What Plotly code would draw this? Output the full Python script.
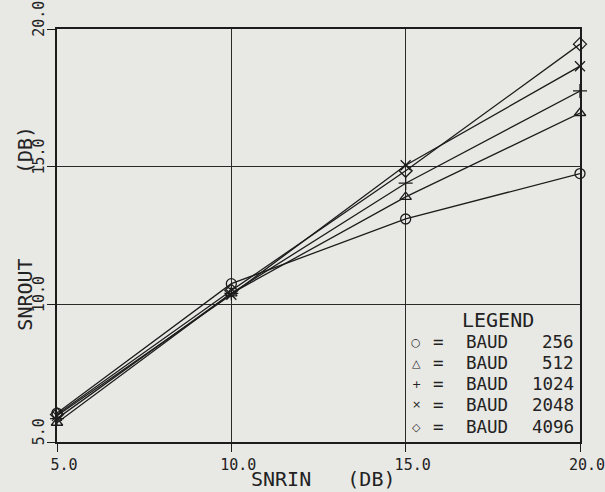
import plotly.graph_objects as go

# ---- data ----
snrin = [5, 10, 15, 20]
baud_rates = [256, 512, 1024, 2048, 4096]
snrout_256 = [6.05, 10.75, 13.1, 14.75]
snrout_512 = [5.7, 10.4, 13.9, 16.95]
snrout_1024 = [5.85, 10.4, 14.4, 17.75]
snrout_2048 = [5.95, 10.35, 15.05, 18.65]
snrout_4096 = [6.0, 10.5, 14.85, 19.45]
tick_vals = [5, 10, 15, 20]
tick_text = ["5.0", "10.0", "15.0", "20.0"]

series = [snrout_256, snrout_512, snrout_1024, snrout_2048, snrout_4096]
symbols = ["circle-open", "triangle-up-open", "cross-thin-open", "x-thin-open", "diamond-open"]
legend_glyphs = ["\u25cb", "\u25b3", "+", "\u00d7", "\u25c7"]

BG = "#e8e8e4"
INK = "#1c1c1c"
TXT = "#222"
MONO = "DejaVu Sans Mono"
NB = "\u00a0"

fig = go.Figure()
for vals, sym in zip(series, symbols):
    fig.add_trace(go.Scatter(
        x=snrin, y=vals, mode="lines+markers",
        line=dict(color=INK, width=1.3),
        marker=dict(symbol=sym, size=10, color=INK, line=dict(color=INK, width=1.3)),
        cliponaxis=False, showlegend=False,
    ))

axis_common = dict(
    range=[5, 20], tickvals=tick_vals, ticktext=tick_text,
    showline=True, linecolor=INK, linewidth=1.5, mirror=True,
    showgrid=True, gridcolor="#2a2a2a", gridwidth=1,
    ticks="outside", ticklen=8, tickcolor=INK, tickwidth=1.3,
    tickfont=dict(family=MONO, size=15, color=TXT),
    zeroline=False, automargin=False, ticklabeloverflow="allow",
)
fig.update_xaxes(**axis_common, ticklabelshift=7)
fig.update_yaxes(**axis_common, tickangle=-90, ticklabelshift=-8, ticklabelstandoff=-3)

annotations = []
# axis titles
annotations.append(dict(
    text="SNRIN" + NB * 3 + "(DB)", x=0.51, y=-0.090, xref="paper", yref="paper",
    showarrow=False, font=dict(family=MONO, size=20, color=TXT),
    xanchor="center", yanchor="middle"))
annotations.append(dict(
    text="SNROUT" + NB * 7 + "(DB)", x=-0.062, y=0.518, xref="paper", yref="paper",
    showarrow=False, textangle=-90, font=dict(family=MONO, size=20, color=TXT),
    xanchor="center", yanchor="middle"))
# legend block (lower-right grid cell)
annotations.append(dict(
    text="LEGEND", x=0.843, y=0.295, xref="paper", yref="paper", showarrow=False,
    font=dict(family=MONO, size=20, color=TXT), xanchor="center", yanchor="middle"))
row_y = [0.242, 0.191, 0.140, 0.090, 0.036]
row_font = dict(family=MONO, size=17.5, color=TXT)
for b, g, ry in zip(baud_rates, legend_glyphs, row_y):
    annotations.append(dict(
        text=g, x=0.687, y=ry, xref="paper", yref="paper", showarrow=False,
        font=dict(family="DejaVu Sans", size=11, color=TXT),
        xanchor="center", yanchor="middle"))
    annotations.append(dict(
        text="=", x=0.730, y=ry, xref="paper", yref="paper", showarrow=False,
        font=row_font, xanchor="center", yanchor="middle"))
    annotations.append(dict(
        text="BAUD", x=0.779, y=ry, xref="paper", yref="paper", showarrow=False,
        font=row_font, xanchor="left", yanchor="middle"))
    annotations.append(dict(
        text=str(b), x=0.993, y=ry, xref="paper", yref="paper", showarrow=False,
        font=row_font, xanchor="right", yanchor="middle"))

fig.update_layout(
    width=605, height=492,
    margin=dict(l=57, r=25, t=29, b=50, autoexpand=False),
    paper_bgcolor=BG, plot_bgcolor=BG,
    annotations=annotations,
    showlegend=False,
)

fig.write_html(
    "out.html",
    config={"displayModeBar": False},
    post_script="document.body.style.margin='0';document.body.style.background='%s';" % BG,
)
